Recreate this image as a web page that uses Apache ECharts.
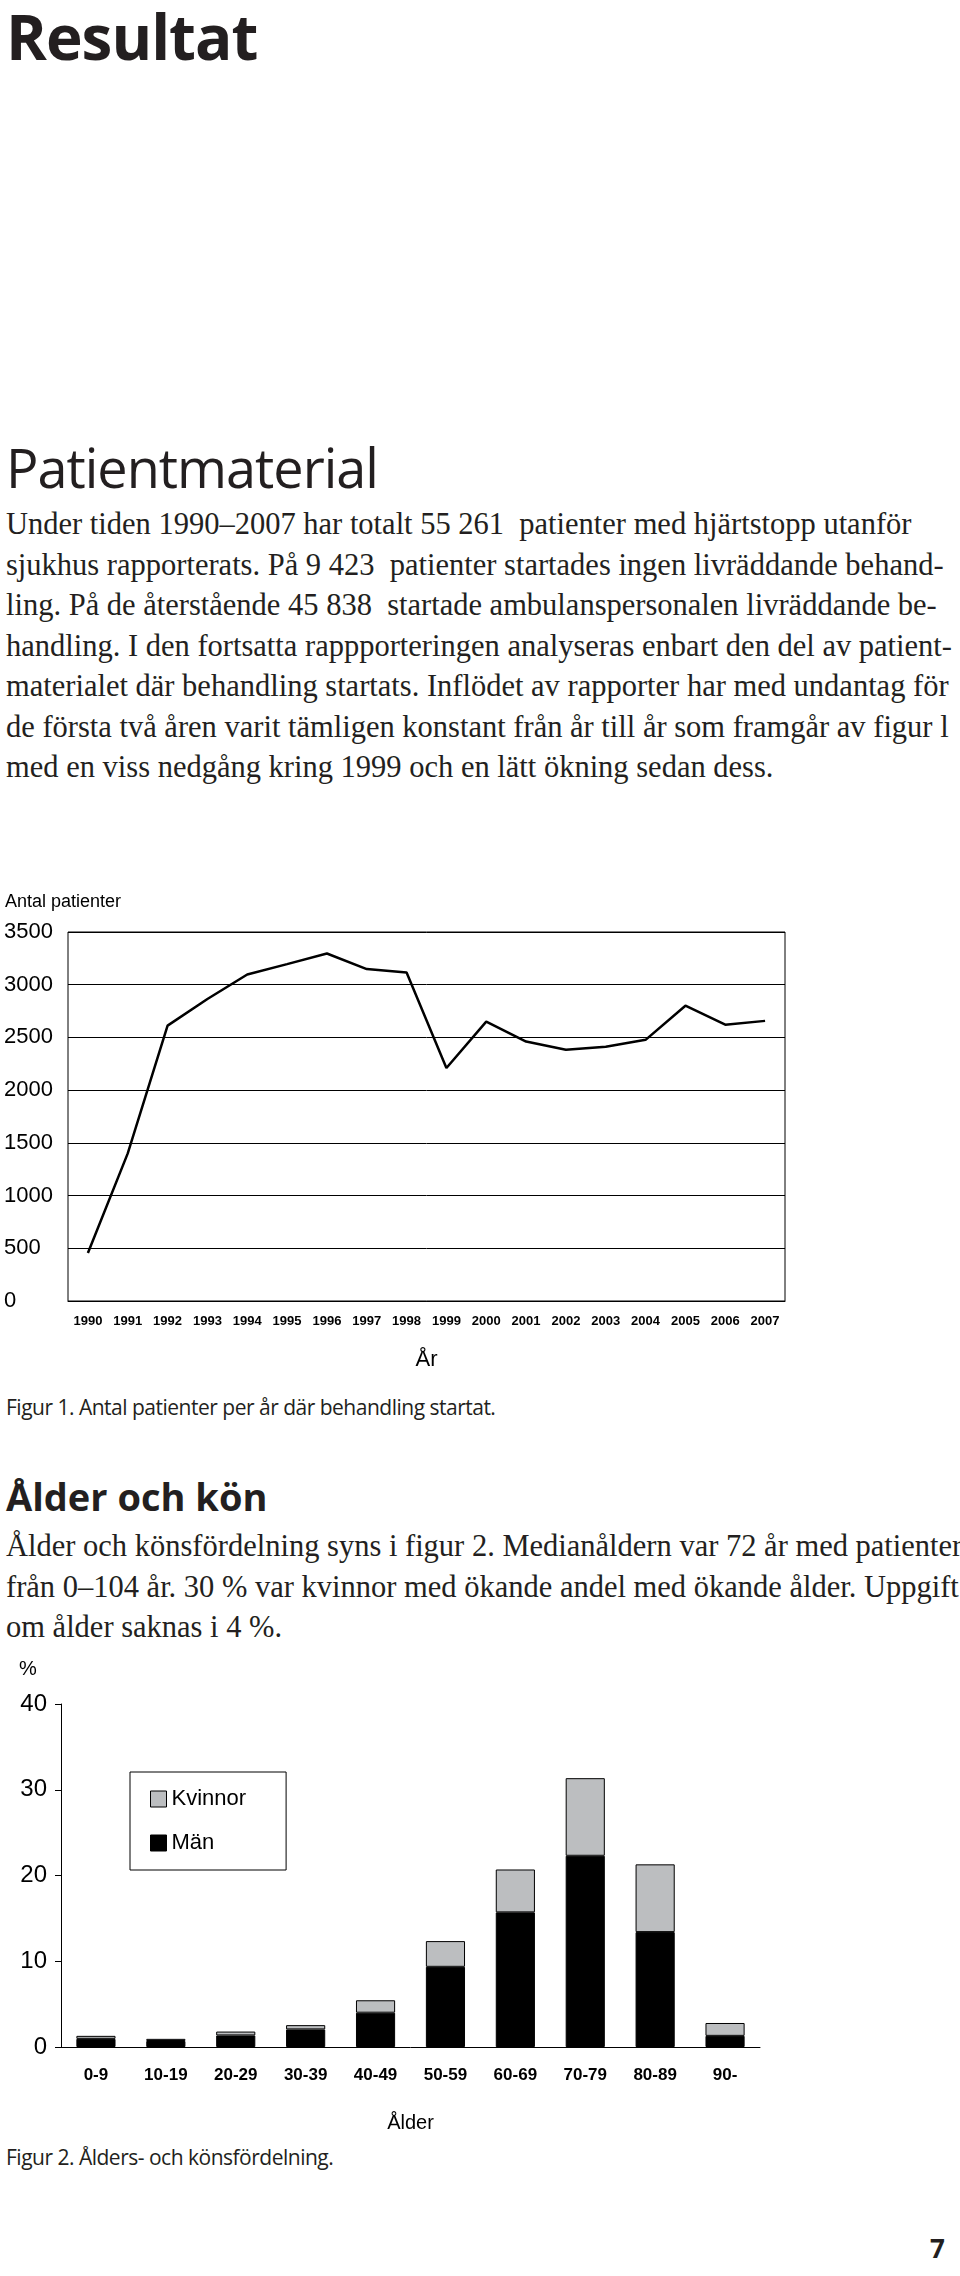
<!DOCTYPE html>
<html><head><meta charset="utf-8">
<script src="https://cdn.jsdelivr.net/npm/echarts@6/dist/echarts.min.js"></script>
<style>
body{margin:0;background:#fff;width:960px;height:2276px;position:relative;overflow:hidden;color:#231f20}
.t{position:absolute;left:6px;white-space:nowrap}
.h1{font-family:"Open Sans",sans-serif;font-weight:700;font-size:62px;top:-6px;letter-spacing:-1px}
.h2{font-family:"Open Sans",sans-serif;font-size:54px;top:430px;letter-spacing:-1px}
.h3{font-family:"Open Sans",sans-serif;font-weight:700;font-size:38px;top:1470px}
.p{font-family:"Liberation Serif",serif;font-size:30.5px;line-height:40.5px}
.cap{font-family:"Open Sans",sans-serif;font-size:21px;letter-spacing:-0.5px}
#c1{position:absolute;left:0;top:880px;width:960px;height:500px}
#c2{position:absolute;left:0;top:1640px;width:960px;height:500px}
</style></head><body>
<div class="t h1">Resultat</div>
<div class="t h2">Patientmaterial</div>
<div class="t p" style="top:504px">Under tiden 1990–2007 har totalt 55 261 &nbsp;patienter med hjärtstopp utanför<br>sjukhus rapporterats. På 9 423 &nbsp;patienter startades ingen livräddande behand-<br>ling. På de återstående 45 838 &nbsp;startade ambulanspersonalen livräddande be-<br>handling. I den fortsatta rappporteringen analyseras enbart den del av patient-<br>materialet där behandling startats. Inflödet av rapporter har med undantag för<br>de första två åren varit tämligen konstant från år till år som framgår av figur l<br>med en viss nedgång kring 1999 och en lätt ökning sedan dess.</div>
<div id="c1"></div>
<div class="t cap" style="top:1393px">Figur 1. Antal patienter per år där behandling startat.</div>
<div class="t h3">Ålder och kön</div>
<div class="t p" style="top:1526px">Ålder och könsfördelning syns i figur 2. Medianåldern var 72 år med patienter<br>från 0–104 år. 30 % var kvinnor med ökande andel med ökande ålder. Uppgift<br>om ålder saknas i 4 %.</div>
<div id="c2"></div>
<div class="t cap" style="top:2143px">Figur 2. Ålders- och könsfördelning.</div>
<div class="t" style="left:930px;top:2230px;font-family:'Open Sans',sans-serif;font-weight:700;font-size:26px">7</div>
<script>
var years = ['1990','1991','1992','1993','1994','1995','1996','1997','1998','1999','2000','2001','2002','2003','2004','2005','2006','2007'];
var patients = [456, 1400, 2612, 2864, 3097, 3195, 3296, 3148, 3116, 2210, 2650, 2461, 2383, 2411, 2477, 2801, 2621, 2657];

var ageGroups = ['0-9','10-19','20-29','30-39','40-49','50-59','60-69','70-79','80-89','90-'];
var men = [0.95, 0.7, 1.35, 2.05, 4.0, 9.35, 15.7, 22.3, 13.4, 1.3];
var women = [0.35, 0.25, 0.45, 0.5, 1.45, 3.0, 5.0, 9.05, 7.9, 1.5];

var font = 'Liberation Sans';
var plain = function (v) { return String(v); };

var chart1 = echarts.init(document.getElementById('c1'));
chart1.setOption({
    animation: false,
    title: { text: 'Antal patienter', left: 0, top: 8, textStyle: { fontFamily: font, fontSize: 18, fontWeight: 'normal', color: '#000' } },
    grid: { left: 68, top: 52, width: 717, height: 369, show: true, borderColor: '#000', borderWidth: 1 },
    xAxis: {
        type: 'category', data: years, name: 'År', nameLocation: 'middle', nameGap: 48,
        nameTextStyle: { fontFamily: font, fontSize: 22, color: '#000' },
        axisLine: { lineStyle: { color: '#000' } },
        axisTick: { lineStyle: { color: '#000' }, length: 6 },
        axisLabel: { fontFamily: font, fontSize: 13, fontWeight: 'bold', color: '#000', margin: 14, interval: 0 }
    },
    yAxis: {
        type: 'value', min: 0, max: 3500, interval: 500,
        axisLine: { show: false }, axisTick: { show: false },
        axisLabel: { fontFamily: font, fontSize: 22, color: '#000', margin: 64, align: 'left', formatter: plain },
        splitLine: { lineStyle: { color: '#000', width: 1 } }
    },
    series: [{ type: 'line', data: patients, symbol: 'none', lineStyle: { color: '#000', width: 2.5 } }]
});

var chart2 = echarts.init(document.getElementById('c2'));
chart2.setOption({
    animation: false,
    title: { text: '%', left: 14, top: 14, textStyle: { fontFamily: font, fontSize: 20, fontWeight: 'normal', color: '#000' } },
    legend: {
        data: ['Kvinnor', 'Män'], orient: 'vertical', left: 130, top: 132,
        padding: [16, 40, 16, 20], itemGap: 22, itemWidth: 16, itemHeight: 16,
        borderColor: '#000', borderWidth: 1, icon: 'rect',
        textStyle: { fontFamily: font, fontSize: 22, color: '#000' },
        itemStyle: { borderColor: '#000', borderWidth: 1 }
    },
    grid: { left: 61, top: 64, width: 699, height: 343 },
    xAxis: {
        type: 'category', data: ageGroups, name: 'Ålder', nameLocation: 'middle', nameGap: 66,
        nameTextStyle: { fontFamily: font, fontSize: 20, color: '#000' },
        axisLine: { lineStyle: { color: '#000' } },
        axisTick: { lineStyle: { color: '#000' }, length: 8 },
        axisLabel: { fontFamily: font, fontSize: 17, fontWeight: 'bold', color: '#000', margin: 20, interval: 0 }
    },
    yAxis: {
        type: 'value', min: 0, max: 40, interval: 10,
        axisLine: { show: true, lineStyle: { color: '#000' } },
        axisTick: { show: true, lineStyle: { color: '#000' }, length: 6 },
        axisLabel: { fontFamily: font, fontSize: 24, color: '#000', margin: 14 },
        splitLine: { show: false }
    },
    series: [
        { name: 'Män', type: 'bar', stack: 'a', data: men, barWidth: '56%', itemStyle: { color: '#000', borderColor: '#000', borderWidth: 1 } },
        { name: 'Kvinnor', type: 'bar', stack: 'a', data: women, barWidth: '56%', itemStyle: { color: '#bcbec0', borderColor: '#000', borderWidth: 1 } }
    ]
});
</script>
</body></html>
